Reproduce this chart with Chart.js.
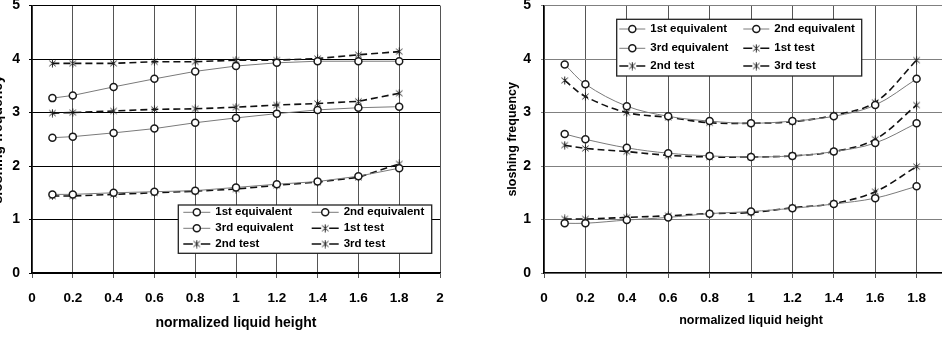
<!DOCTYPE html>
<html>
<head>
<meta charset="utf-8">
<script src="https://cdn.jsdelivr.net/npm/chart.js@4.4.1/dist/chart.umd.min.js"></script>
<style>
  html, body { margin: 0; padding: 0; background: #fff; width: 946px; height: 338px; overflow: hidden; }
  #leftWrap { position: absolute; left: -14px; top: 0; }
  #rightWrap { position: absolute; left: 476px; top: 0; width: 466px; height: 338px; overflow: hidden; }
</style>
</head>
<body>
<div id="leftWrap"><canvas id="leftChart" width="484" height="338"></canvas></div>
<div id="rightWrap"><canvas id="rightChart" width="492" height="338"></canvas></div>
<script>
// normalized liquid height (x) and series names
const heights = [0.1, 0.2, 0.4, 0.6, 0.8, 1.0, 1.2, 1.4, 1.6, 1.8];
const seriesNames = ['1st equivalent', '2nd equivalent', '3rd equivalent', '1st test', '2nd test', '3rd test'];
const xTitle = 'normalized liquid height';
const yTitle = 'sloshing frequency';

// left chart values
const leftEq1 = [1.47, 1.47, 1.50, 1.52, 1.54, 1.60, 1.66, 1.71, 1.81, 1.96];
const leftEq2 = [2.53, 2.55, 2.62, 2.70, 2.81, 2.90, 2.98, 3.05, 3.09, 3.11];
const leftEq3 = [3.27, 3.32, 3.48, 3.63, 3.77, 3.87, 3.93, 3.96, 3.96, 3.96];
const leftTest1 = [1.44, 1.44, 1.47, 1.50, 1.53, 1.57, 1.64, 1.70, 1.79, 2.04];
const leftTest2 = [2.99, 3.00, 3.03, 3.06, 3.07, 3.10, 3.14, 3.17, 3.21, 3.36];
const leftTest3 = [3.92, 3.92, 3.92, 3.95, 3.95, 3.98, 3.98, 4.01, 4.08, 4.14];

// right chart values
const rightEq1 = [0.93, 0.93, 0.99, 1.04, 1.11, 1.15, 1.21, 1.29, 1.40, 1.62];
const rightEq2 = [2.60, 2.50, 2.34, 2.24, 2.19, 2.17, 2.19, 2.27, 2.43, 2.80];
const rightEq3 = [3.90, 3.53, 3.12, 2.93, 2.84, 2.80, 2.84, 2.93, 3.14, 3.63];
const rightTest1 = [1.01, 1.01, 1.04, 1.07, 1.11, 1.13, 1.22, 1.30, 1.52, 1.99];
const rightTest2 = [2.39, 2.33, 2.27, 2.20, 2.17, 2.17, 2.19, 2.27, 2.50, 3.14];
const rightTest3 = [3.60, 3.30, 3.00, 2.91, 2.81, 2.80, 2.83, 2.95, 3.19, 3.98];

const FONT = '"Liberation Sans", Arial, sans-serif';

// excel-like "*" marker (vertical bar + x)
function makeStar(size) {
  const c = document.createElement('canvas');
  c.width = size; c.height = size;
  const g = c.getContext('2d');
  const m = size / 2, r = size / 2 - 0.5;
  g.strokeStyle = '#222';
  g.lineWidth = 1;
  g.beginPath();
  g.moveTo(m, m - r); g.lineTo(m, m + r);
  g.moveTo(m - r * 0.8, m - r * 0.7); g.lineTo(m + r * 0.8, m + r * 0.7);
  g.moveTo(m + r * 0.8, m - r * 0.7); g.lineTo(m - r * 0.8, m + r * 0.7);
  g.stroke();
  return c;
}
const starImg = makeStar(9);

// legend drawn as a boxed 2-column table inside the plot
const boxLegend = {
  id: 'boxLegend',
  afterDraw(chart, args, o) {
    const ctx = chart.ctx;
    ctx.save();
    ctx.fillStyle = '#fff';
    ctx.fillRect(o.x, o.y, o.w, o.h);
    ctx.strokeStyle = '#222';
    ctx.lineWidth = 1.3;
    ctx.strokeRect(o.x, o.y, o.w, o.h);
    chart.data.datasets.forEach((ds, i) => {
      const y = o.rows[Math.floor(i / 2)];
      const x0 = o.cols[i % 2];
      const x1 = x0 + o.sampleW;
      const mid = (x0 + x1) / 2;
      ctx.strokeStyle = ds.borderColor;
      ctx.lineWidth = ds.borderWidth;
      ctx.beginPath();
      if (ds.borderDash) {
        ctx.moveTo(x0, y); ctx.lineTo(mid - 4, y);
        ctx.moveTo(mid + 4, y); ctx.lineTo(x1, y);
      } else {
        ctx.moveTo(x0, y); ctx.lineTo(x1, y);
      }
      ctx.stroke();
      if (ds.pointStyle === 'circle') {
        ctx.beginPath();
        ctx.arc(mid, y, ds.pointRadius, 0, Math.PI * 2);
        ctx.fillStyle = ds.pointBackgroundColor;
        ctx.fill();
        ctx.lineWidth = ds.pointBorderWidth;
        ctx.strokeStyle = ds.pointBorderColor;
        ctx.stroke();
      } else {
        ctx.drawImage(ds.pointStyle, mid - ds.pointStyle.width / 2, y - ds.pointStyle.height / 2);
      }
      ctx.fillStyle = '#000';
      ctx.font = o.font;
      ctx.textBaseline = 'middle';
      ctx.textAlign = 'left';
      ctx.fillText(ds.label, x1 + o.gap, y);
    });
    ctx.restore();
  }
};

function buildChart(id, eqs, tests, look) {
  const datasets = [];
  eqs.forEach((vals, i) => datasets.push({
    label: seriesNames[i],
    data: heights.map((h, k) => ({ x: h, y: vals[k] })),
    borderColor: '#7a7a7a',
    borderWidth: 1,
    tension: look.tension,
    pointStyle: 'circle',
    pointRadius: 3.5,
    pointBorderWidth: 1.5,
    pointBorderColor: '#1a1a1a',
    pointBackgroundColor: '#fff'
  }));
  tests.forEach((vals, i) => datasets.push({
    label: seriesNames[i + 3],
    data: heights.map((h, k) => ({ x: h, y: vals[k] })),
    borderColor: '#111',
    borderWidth: 1.6,
    borderDash: [7, 4],
    tension: look.tension,
    pointStyle: starImg,
    pointRadius: 4
  }));

  return new Chart(document.getElementById(id), {
    type: 'line',
    data: { datasets: datasets },
    plugins: [boxLegend],
    options: {
      responsive: false,
      animation: false,
      layout: { padding: look.padding },
      plugins: {
        legend: { display: false },
        tooltip: { enabled: false },
        boxLegend: look.legend
      },
      scales: {
        x: {
          type: 'linear',
          min: 0, max: 2,
          afterFit(s) { s.height = look.xHeight; s.paddingLeft = 0; s.paddingRight = 0; },
          grid: { color: '#555', lineWidth: 1, tickLength: 5 },
          border: { color: '#000', width: 1.3 },
          ticks: {
            stepSize: 0.2, autoSkip: false, maxRotation: 0, padding: look.xTickPad,
            color: '#000', font: { family: FONT, size: 13.5, weight: 'bold' },
            callback: v => String(+v.toFixed(1))
          },
          title: {
            display: true, text: xTitle, color: '#000',
            font: { family: FONT, size: look.xTitleSize, weight: 'bold' },
            padding: { top: 4, bottom: look.xTitlePad }
          }
        },
        y: {
          min: 0, max: 5,
          afterFit(s) { s.width = look.yWidth; s.paddingTop = 0; s.paddingBottom = 0; },
          grid: { color: look.yGrid, lineWidth: 1, tickLength: 3 },
          border: { color: '#000', width: 1.3 },
          ticks: {
            stepSize: 1, padding: look.yTickPad,
            color: '#000', font: { family: FONT, size: 14, weight: 'bold' }
          },
          title: {
            display: true, text: yTitle, color: '#000',
            font: { family: FONT, size: look.yTitleSize, weight: 'bold' },
            padding: { top: look.yTitlePad, bottom: 4 }
          }
        }
      }
    }
  });
}

buildChart('leftChart', [leftEq1, leftEq2, leftEq3], [leftTest1, leftTest2, leftTest3], {
  tension: 0,
  padding: { left: 0, top: 2, right: 30, bottom: 0 },
  xHeight: 65, yWidth: 46,
  xTickPad: 12, yTickPad: 9,
  xTitleSize: 14, xTitlePad: 6,
  yTitleSize: 14, yTitlePad: 4,
  yGrid: '#000',
  legend: {
    x: 192.3, y: 205, w: 253.4, h: 48.3,
    cols: [197.3, 325.7], rows: [212.3, 228.3, 244],
    sampleW: 27, gap: 5, font: 'bold 11.5px ' + FONT
  }
});

buildChart('rightChart', [rightEq1, rightEq2, rightEq3], [rightTest1, rightTest2, rightTest3], {
  tension: 0.35,
  padding: { left: 22, top: 4, right: 10, bottom: 0 },
  xHeight: 65, yWidth: 46,
  xTickPad: 12, yTickPad: 10,
  xTitleSize: 12.5, xTitlePad: 10,
  yTitleSize: 12.5, yTitlePad: 7.5,
  yGrid: '#808080',
  legend: {
    x: 140.7, y: 19.3, w: 245, h: 56.7,
    cols: [143.3, 267.3], rows: [29, 48.3, 66],
    sampleW: 26, gap: 5, font: 'bold 11.5px ' + FONT
  }
});
</script>
</body>
</html>
